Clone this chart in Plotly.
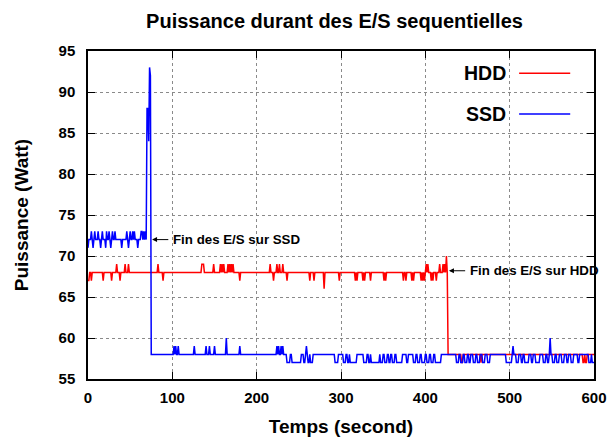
import plotly.graph_objects as go

# ---------------- data ----------------
time_s = list(range(0, 601))

# HDD: level 68 W until the end of I/O, then 58 W
hdd_levels_start = [0, 427]
hdd_levels_value = [68, 58]
hdd_event_t = [0, 1, 4, 18, 28, 34, 38, 44, 48, 83, 89, 135, 136, 137, 149, 157, 159,
               161, 166, 168, 170, 172, 180, 216, 220, 224, 227, 231, 236, 263, 268,
               280, 298, 317, 319, 326, 328, 335, 351, 353, 374, 377, 384, 386, 395,
               397, 399, 401, 403, 407, 409, 413, 417, 421, 423, 425,
               443, 444, 466, 587, 588, 590, 591]
hdd_event_v = [67, 67, 67, 67, 67, 69, 67, 69, 69, 69, 67, 69, 69, 69, 69, 69, 69,
               69, 69, 69, 69, 69, 67, 69, 67, 69, 69, 69, 67, 67, 67,
               66, 67, 67, 67, 67, 67, 67, 67, 67, 67, 67, 67, 67, 67,
               67, 67, 69, 69, 67, 67, 67, 69, 69, 69, 70,
               57, 57, 57, 57, 57, 57, 57]

# SSD: level 72 W, peak, then 58 W
ssd_levels_start = [0, 75]
ssd_levels_value = [72, 58]
ssd_event_t = [0, 4, 6, 8, 12, 15, 17, 21, 22, 25, 27, 29, 32, 40, 46, 48, 50, 53, 55,
               59, 63, 64, 66, 68, 70, 71, 72, 73, 74,
               102, 104, 107, 126, 140, 144, 150, 164, 180, 224, 226, 229, 231,
               259, 504, 548]
ssd_event_v = [71, 73, 71, 73, 73, 71, 73, 71, 73, 73, 71, 73, 73, 71, 73, 71, 73, 73, 73,
               71, 73, 73, 73, 73, 88, 88, 84, 93, 92,
               59, 59, 59, 59, 59, 59, 59, 60, 59, 59, 59, 59, 59,
               59, 59, 60]
# periods where the SSD reads 57 W (start, end inclusive)
ssd_low_start = [236, 242, 256, 261, 264, 293, 303, 308, 311, 327, 333, 336, 347, 352, 357,
                 361, 366, 378, 386, 391, 396, 402, 407, 412, 437, 442, 447, 452, 457,
                 462, 468, 474, 496, 508, 514, 518, 526, 531, 540, 545, 551, 556, 562,
                 568, 573, 581, 594, 598]
ssd_low_end = [239, 252, 257, 262, 266, 296, 305, 309, 318, 330, 334, 345, 349, 354, 358,
               363, 372, 379, 388, 393, 399, 404, 409, 418, 439, 444, 449, 453, 459,
               464, 470, 476, 502, 510, 515, 522, 527, 535, 542, 546, 553, 558, 564,
               569, 575, 582, 596, 600]

x_ticks = [0, 100, 200, 300, 400, 500, 600]
y_ticks = [55, 60, 65, 70, 75, 80, 85, 90, 95]


def build(levels_start, levels_value, ev_t, ev_v):
    vals = []
    for t in time_s:
        v = levels_value[0]
        for s, lv in zip(levels_start, levels_value):
            if t >= s:
                v = lv
        vals.append(v)
    for t, v in zip(ev_t, ev_v):
        vals[t] = v
    return vals


hdd = build(hdd_levels_start, hdd_levels_value, hdd_event_t, hdd_event_v)
ssd = build(ssd_levels_start, ssd_levels_value, ssd_event_t, ssd_event_v)
for s, e in zip(ssd_low_start, ssd_low_end):
    for t in range(s, e + 1):
        ssd[t] = 57

FONT = "Liberation Sans"

fig = go.Figure()
fig.add_trace(go.Scatter(x=time_s, y=hdd, mode="lines", name="HDD",
                         line=dict(color="#ff0000", width=1.5), showlegend=False))
fig.add_trace(go.Scatter(x=time_s, y=ssd, mode="lines", name="SSD",
                         line=dict(color="#0000ff", width=1.5), showlegend=False))

axis_common = dict(
    showline=True, linecolor="black", linewidth=1.5, mirror="ticks",
    ticks="inside", ticklen=7, tickcolor="black", tickwidth=1,
    showgrid=True, gridcolor="#8a8a8a", griddash="dot", gridwidth=1,
    zeroline=False, automargin=False,
    tickfont=dict(family=FONT, size=15, color="black"),
)

fig.update_xaxes(range=[0, 600], tickvals=x_ticks,
                 ticktext=["<b>%d</b>" % v for v in x_ticks], ticklabelstandoff=4,
                 title=dict(text="<b>Temps (second)</b>", standoff=16,
                            font=dict(family=FONT, size=19, color="black")),
                 **axis_common)
fig.update_yaxes(range=[55, 95], tickvals=y_ticks,
                 ticktext=["<b>%d</b>" % v for v in y_ticks], ticklabelstandoff=8,
                 title=dict(text="<b>Puissance (Watt)</b>", standoff=25,
                            font=dict(family=FONT, size=19, color="black")),
                 **axis_common)

# legend drawn as gnuplot-style key (text left of line sample, white box)
fig.add_shape(type="rect", xref="paper", yref="paper", x0=0.762, x1=0.979, y0=0.74, y1=0.985,
              fillcolor="white", line=dict(width=0), layer="between")
legend_names = ["HDD", "SSD"]
legend_colors = ["#ff0000", "#0000ff"]
legend_y = [0.932, 0.808]
for name, col, yy in zip(legend_names, legend_colors, legend_y):
    fig.add_annotation(xref="paper", yref="paper", x=0.83, y=yy, text="<b>%s</b>" % name,
                       showarrow=False, xanchor="right", yanchor="middle",
                       font=dict(family=FONT, size=19.5, color="black"))
    fig.add_shape(type="line", xref="paper", yref="paper", x0=0.852, x1=0.953, y0=yy, y1=yy,
                  line=dict(color=col, width=1.5))

# arrows + labels
notes_text = ["Fin des E/S sur SSD", "Fin des E/S sur HDD"]
notes_head_x = [76, 428]
notes_tail_x = [97, 449]
notes_y = [72, 68.2]
for txt, hx, tx, yy in zip(notes_text, notes_head_x, notes_tail_x, notes_y):
    fig.add_annotation(x=hx, y=yy, ax=tx, ay=yy, axref="x", ayref="y", text="",
                       showarrow=True, arrowhead=2, arrowsize=1, arrowwidth=1,
                       arrowcolor="black", standoff=0)
    fig.add_annotation(x=tx + 1, y=yy, text="<b>%s</b>" % txt, showarrow=False,
                       xanchor="left", yanchor="middle",
                       font=dict(family=FONT, size=13.3, color="black"))

fig.update_layout(
    width=611, height=437,
    margin=dict(l=88, r=17, t=51, b=58),
    paper_bgcolor="white", plot_bgcolor="white",
    title=dict(text="<b>Puissance durant des E/S sequentielles</b>", x=0.5475,
               xanchor="center", y=0.953, yanchor="middle",
               font=dict(family=FONT, size=20, color="black")),
)

fig.write_html("out.html", config={"displayModeBar": False},
               post_script="document.body.style.margin='0';")
